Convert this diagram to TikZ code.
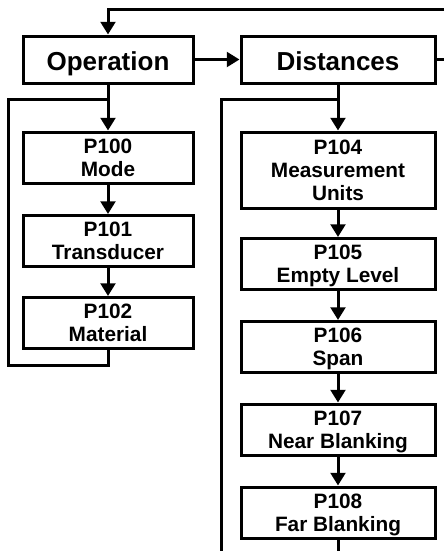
\documentclass[tikz,border=0pt]{standalone}
\usepackage{fontspec}
\setmainfont{Liberation Sans}
\usetikzlibrary{arrows.meta}

\tikzset{every picture/.style={line width=2.25pt}}
\tikzset{
  menubox/.style={draw, rectangle, inner sep=0pt, align=center, font=\bfseries\fontsize{19.5}{21}\selectfont, text height=17pt, text depth=0pt, minimum height=47*0.75pt},
  parbox/.style={draw, rectangle, inner sep=0pt, align=center, font=\bfseries\fontsize{15.6}{17.25}\selectfont, text depth=0pt, minimum height=51*0.75pt},
  arr/.style={-{Triangle[length=9.5pt,width=11pt]}}
}

\begin{document}
\begin{tikzpicture}[x=0.75pt,y=0.75pt,yscale=-1,xscale=1]
\useasboundingbox (0,0) rectangle (444,551);

% Menu boxes
\node [menubox, minimum width=170*0.75pt] (op) at (108,59.5) {Operation};
\node [menubox, minimum width=194*0.75pt] (dist) at (338,59.5) {Distances};

% Operation parameters
\node [parbox, minimum width=170*0.75pt] (p100) at (108,157.5) {P100\\Mode};
\node [parbox, minimum width=170*0.75pt] (p101) at (108,241) {P101\\Transducer};
\node [parbox, minimum width=170*0.75pt] (p102) at (108,323) {P102\\Material};

% Distances parameters
\node [parbox, minimum width=194*0.75pt, minimum height=76*0.75pt] (p104) at (338,170) {P104\\Measurement\\Units};
\node [parbox, minimum width=194*0.75pt] (p105) at (338,264) {P105\\Empty Level};
\node [parbox, minimum width=194*0.75pt] (p106) at (338,347) {P106\\Span};
\node [parbox, minimum width=194*0.75pt] (p107) at (338,429.5) {P107\\Near Blanking};
\node [parbox, minimum width=194*0.75pt] (p108) at (338,512.5) {P108\\Far Blanking};

% Free ends and corners
\coordinate (topR) at (444,9);
\coordinate (rgtEdge) at (444,0);
\coordinate (opJoin) at (108,99);
\coordinate (loopL) at (8,365);
\coordinate (distJoin) at (338,99);
\coordinate (loopR) at (221,551);

% Connectors
\draw [arr] (topR) -| (op.north);
\draw [arr] (op.east) -- (dist.west);
\draw (dist.east) -- (dist.east -| rgtEdge);
\draw [arr] (op.south) -- (p100.north);
\draw [arr] (p100.south) -- (p101.north);
\draw [arr] (p101.south) -- (p102.north);
\draw (p102.south) |- (loopL) |- (opJoin);
\draw [arr] (dist.south) -- (p104.north);
\draw [arr] (p104.south) -- (p105.north);
\draw [arr] (p105.south) -- (p106.north);
\draw [arr] (p106.south) -- (p107.north);
\draw [arr] (p107.south) -- (p108.north);
\draw (distJoin) -| (loopR);
\draw (p108.south) -- (p108.south |- loopR);

\end{tikzpicture}
\end{document}
